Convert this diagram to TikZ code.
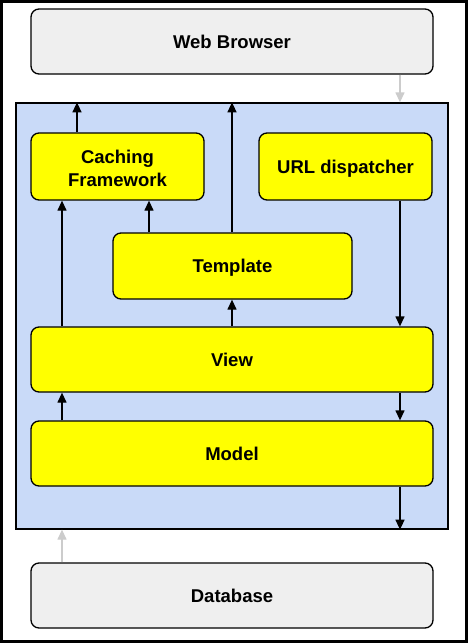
\documentclass[tikz,border=0pt]{standalone}
\usepackage{fontspec}
\setmainfont{Liberation Sans}
\usetikzlibrary{arrows.meta}
\definecolor{coreblue}{HTML}{C9DAF8}
\definecolor{boxyellow}{HTML}{FFFF00}
\definecolor{boxgray}{HTML}{EFEFEF}
\definecolor{arrgray}{HTML}{CCCCCC}
\begin{document}
\begin{tikzpicture}[x=1pt,y=-1pt,
  box/.style={draw=black, line width=1.3pt, rounded corners=8pt, align=center, inner sep=0pt,
    font=\fontsize{18.5}{23}\selectfont\bfseries, text height=13.3pt, text depth=0pt},
  ybox/.style={box, fill=boxyellow},
  gbox/.style={box, fill=boxgray},
  arr/.style={line width=1.3pt, -{Triangle[length=10pt,width=9pt]}},
  garr/.style={arr, draw=arrgray, fill=arrgray}]
\useasboundingbox (0,0) rectangle (468,643);
\fill[white] (0,0) rectangle (468,643);
\draw[line width=2.6pt] (1.3,1.3) rectangle (466.7,641.7);

\node[draw=black, line width=1.3pt, fill=coreblue, minimum width=432, minimum height=426, inner sep=0pt] (core) at (232,316) {};

\node[gbox, minimum width=402, minimum height=65] (wb) at (232,41.5) {Web Browser};
\node[ybox, minimum width=173, minimum height=67, text height=, text depth=] (cache) at (117.5,166.5) {\rule{0pt}{17.5pt}Caching\\Framework};
\node[ybox, minimum width=173, minimum height=67] (url) at (345.5,166.5) {URL dispatcher};
\node[ybox, minimum width=239, minimum height=66] (tmpl) at (232.5,266) {Template};
\node[ybox, minimum width=402, minimum height=65] (view) at (232,359.5) {View};
\node[ybox, minimum width=402, minimum height=65] (model) at (232,453.5) {Model};
\node[gbox, minimum width=402, minimum height=65] (db) at (232,595.5) {Database};

\coordinate (xa) at (62,0);
\coordinate (xb) at (77,0);
\coordinate (xc) at (149,0);
\coordinate (xt) at (232,0);
\coordinate (xd) at (400,0);

\draw[arr] (cache.north -| xb) -- (core.north -| xb);
\draw[arr] (view.north -| xa) -- (cache.south -| xa);
\draw[arr] (tmpl.north -| xc) -- (cache.south -| xc);
\draw[arr] (tmpl.north -| xt) -- (core.north -| xt);
\draw[arr] (view.north -| xt) -- (tmpl.south -| xt);
\draw[arr] (url.south -| xd) -- (view.north -| xd);
\draw[arr] (view.south -| xd) -- (model.north -| xd);
\draw[arr] (model.north -| xa) -- (view.south -| xa);
\draw[arr] (model.south -| xd) -- (core.south -| xd);
\draw[garr] (wb.south -| xd) -- (core.north -| xd);
\draw[garr] (db.north -| xa) -- (core.south -| xa);
\end{tikzpicture}
\end{document}
